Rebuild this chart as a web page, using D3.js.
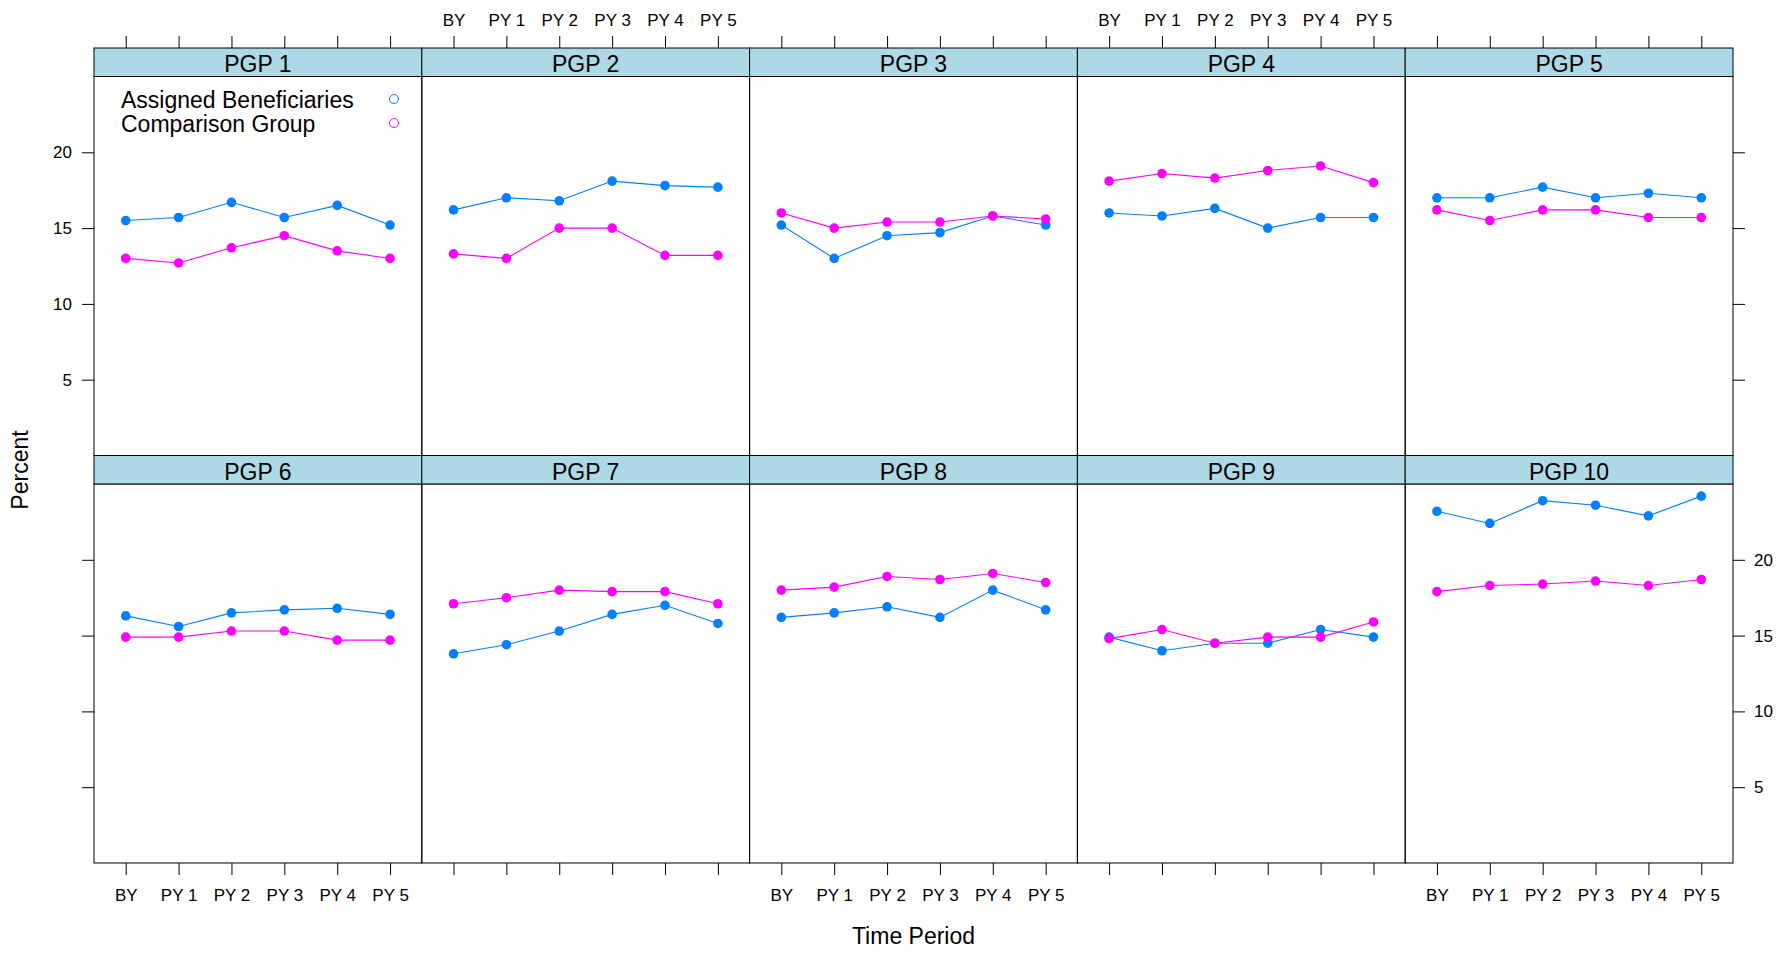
<!DOCTYPE html>
<html>
<head>
<meta charset="utf-8">
<script src="https://cdn.jsdelivr.net/npm/d3@7"></script>
<style>
  body { margin: 0; background: #fff; }
  text { font-family: "Liberation Sans", Arial, sans-serif; fill: #000; }
</style>
</head>
<body>
<svg id="chart" width="1785" height="956"></svg>
<script>
// periods on the x axis
var periods = ["BY", "PY 1", "PY 2", "PY 3", "PY 4", "PY 5"];
var groups = ["PGP 1", "PGP 2", "PGP 3", "PGP 4", "PGP 5", "PGP 6", "PGP 7", "PGP 8", "PGP 9", "PGP 10"];
var yTicks = [5, 10, 15, 20];

// Assigned Beneficiaries, one row per PGP
var assigned = [
    [15.5, 15.7, 16.7, 15.7, 16.5, 15.2],
    [16.2, 17.0, 16.8, 18.1, 17.8, 17.7],
    [15.2, 13.0, 14.5, 14.7, 15.8, 15.2],
    [16.0, 15.8, 16.3, 15.0, 15.7, 15.7],
    [17.0, 17.0, 17.7, 17.0, 17.3, 17.0],
    [16.3, 15.6, 16.5, 16.7, 16.8, 16.4],
    [13.8, 14.4, 15.3, 16.4, 17.0, 15.8],
    [16.2, 16.5, 16.9, 16.2, 18.0, 16.7],
    [14.9, 14.0, 14.5, 14.5, 15.4, 14.9],
    [23.2, 22.4, 23.9, 23.6, 22.9, 24.2]
];

// Comparison Group, one row per PGP
var comparison = [
    [13.0, 12.7, 13.7, 14.5, 13.5, 13.0],
    [13.3, 13.0, 15.0, 15.0, 13.2, 13.2],
    [16.0, 15.0, 15.4, 15.4, 15.8, 15.6],
    [18.1, 18.6, 18.3, 18.8, 19.1, 18.0],
    [16.2, 15.5, 16.2, 16.2, 15.7, 15.7],
    [14.9, 14.9, 15.3, 15.3, 14.7, 14.7],
    [17.1, 17.5, 18.0, 17.9, 17.9, 17.1],
    [18.0, 18.2, 18.9, 18.7, 19.1, 18.5],
    [14.8, 15.4, 14.5, 14.9, 14.9, 15.9],
    [17.9, 18.3, 18.4, 18.6, 18.3, 18.7]
];

var seriesNames = ["Assigned Beneficiaries", "Comparison Group"];
var seriesColors = ["#0080ff", "#ff00ff"];

var svg = d3.select("#chart");

// layout
var marginLeft = 94, marginTop = 48;
var panelW = 327.8, panelH = 379, stripH = 28.5;
var nCols = 5;

var x = d3.scalePoint().domain(periods).range([0, panelW]).padding(0.6);
var y = d3.scaleLinear().domain([0, 25]).range([panelH, 0]);

var line = d3.line()
    .x(function (d, i) { return x(periods[i]); })
    .y(function (d) { return y(d); });

groups.forEach(function (name, k) {
    var col = k % nCols;
    var row = Math.floor(k / nCols);
    var px = marginLeft + col * panelW;
    var sy = marginTop + row * (stripH + panelH);
    var py = sy + stripH;

    var g = svg.append("g").attr("transform", "translate(" + px + "," + py + ")");

    // strip
    svg.append("rect")
        .attr("x", px).attr("y", sy)
        .attr("width", panelW).attr("height", stripH)
        .attr("fill", "#add8e6").attr("stroke", "#000").attr("stroke-width", 1);
    svg.append("text")
        .attr("x", px + panelW / 2).attr("y", sy + stripH / 2 + 10)
        .attr("text-anchor", "middle")
        .style("font-size", "23px")
        .text(name);

    // panel box
    g.append("rect")
        .attr("width", panelW).attr("height", panelH)
        .attr("fill", "none").attr("stroke", "#000").attr("stroke-width", 1);

    // series
    [assigned[k], comparison[k]].forEach(function (vals, s) {
        g.append("path")
            .attr("d", line(vals))
            .attr("fill", "none")
            .attr("stroke", seriesColors[s])
            .attr("stroke-width", 1.1);
        g.selectAll(".pt" + s).data(vals).enter().append("circle")
            .attr("class", "pt" + s)
            .attr("cx", function (d, i) { return x(periods[i]); })
            .attr("cy", function (d) { return y(d); })
            .attr("r", 4.8)
            .attr("fill", seriesColors[s]);
    });

    // x axes: top on row 0, bottom on row 1 (labels alternate)
    if (row == 0) {
        var topAxis = d3.axisTop(x).tickSize(12).tickSizeOuter(0).tickPadding(10);
        if (col % 2 == 0) topAxis.tickFormat("");
        var ta = svg.append("g").attr("transform", "translate(" + px + "," + sy + ")").call(topAxis);
        ta.select(".domain").remove();
        ta.selectAll("text").style("font-size", "17px").attr("fill", "#000");
    } else {
        var botAxis = d3.axisBottom(x).tickSize(12).tickSizeOuter(0).tickPadding(14);
        if (col % 2 == 1) botAxis.tickFormat("");
        var ba = svg.append("g").attr("transform", "translate(" + px + "," + (py + panelH) + ")").call(botAxis);
        ba.select(".domain").remove();
        ba.selectAll("text").style("font-size", "17px").attr("fill", "#000");
    }

    // y axes: left on first column, right on last column
    if (col == 0) {
        var la = d3.axisLeft(y).tickValues(yTicks).tickSize(12).tickPadding(10);
        if (row == 1) la.tickFormat("");
        var lg = g.append("g").call(la);
        lg.select(".domain").remove();
        lg.selectAll("text").style("font-size", "17px").attr("fill", "#000");
    }
    if (col == nCols - 1) {
        var ra = d3.axisRight(y).tickValues(yTicks).tickSize(12).tickPadding(9);
        if (row == 0) ra.tickFormat("");
        var rg = g.append("g").attr("transform", "translate(" + panelW + ",0)").call(ra);
        rg.select(".domain").remove();
        rg.selectAll("text").style("font-size", "17px").attr("fill", "#000");
    }
});

// legend inside first panel
var legend = svg.append("g").attr("transform", "translate(121,108)");
seriesNames.forEach(function (n, i) {
    legend.append("text")
        .attr("x", 0).attr("y", i * 24)
        .style("font-size", "23px")
        .text(n);
    legend.append("circle")
        .attr("cx", 273).attr("cy", i * 24 - 9)
        .attr("r", 4.5)
        .attr("fill", "none")
        .attr("stroke", seriesColors[i])
        .attr("stroke-width", 1);
});

// axis titles
svg.append("text")
    .attr("x", marginLeft + nCols * panelW / 2).attr("y", 944)
    .attr("text-anchor", "middle")
    .style("font-size", "23px")
    .text("Time Period");

svg.append("text")
    .attr("transform", "translate(28,470) rotate(-90)")
    .attr("text-anchor", "middle")
    .style("font-size", "23px")
    .text("Percent");
</script>
</body>
</html>
